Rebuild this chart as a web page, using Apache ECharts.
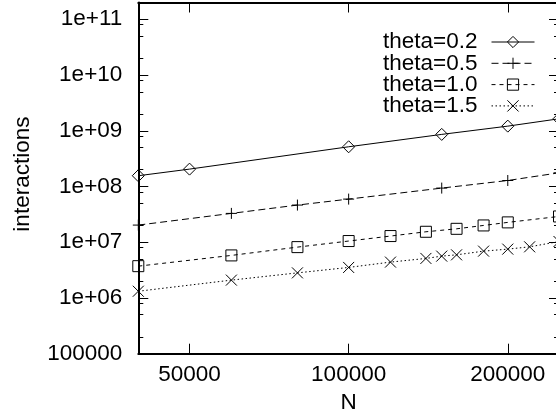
<!DOCTYPE html>
<html><head><meta charset="utf-8">
<script src="https://cdn.jsdelivr.net/npm/echarts@6/dist/echarts.min.js"></script>
<style>html,body{margin:0;padding:0;background:#fff}#c{width:556px;height:416px}</style>
</head><body><div id="c"></div>
<script>
const seriesNames = ['theta=0.2', 'theta=0.5', 'theta=1.0', 'theta=1.5'];

const n02 = [40000, 50000, 100000, 150000, 200000, 250000];
const i02 = [1.56e8, 2.05e8, 5.16e8, 8.6e8, 1.21e9, 1.64e9];

const n05 = [40000, 60000, 80000, 100000, 150000, 200000, 250000];
const i05 = [2.03e7, 3.29e7, 4.64e7, 5.94e7, 9.36e7, 1.28e8, 1.76e8];

const n10 = [40000, 60000, 80000, 100000, 120000, 140000, 160000, 180000, 200000, 250000];
const i10 = [3.72e6, 5.80e6, 8.17e6, 1.05e7, 1.29e7, 1.54e7, 1.74e7, 2.0e7, 2.27e7, 2.9e7];

const n15 = [40000, 60000, 80000, 100000, 120000, 140000, 150000, 160000, 180000, 200000, 220000, 250000];
const i15 = [1.32e6, 2.09e6, 2.82e6, 3.53e6, 4.40e6, 5.12e6, 5.63e6, 5.94e6, 6.92e6, 7.52e6, 8.27e6, 1.03e7];

const xTickValues = [50000, 100000, 200000];
const xTickLabels = ['50000', '100000', '200000'];
const yTickValues = [1e5, 1e6, 1e7, 1e8, 1e9, 1e10, 1e11];
const yTickLabels = ['100000', '1e+06', '1e+07', '1e+08', '1e+09', '1e+10', '1e+11'];
const yMinorTickValues = [2e5, 5e5, 8e5, 2e6, 5e6, 8e6, 2e7, 5e7, 8e7, 2e8, 5e8, 8e8,
  2e9, 5e9, 8e9, 2e10, 5e10, 8e10];

const FONT = 'Liberation Sans';
const FS = 22.5;

function pick(values, labels) {
  return function (v) {
    for (let k = 0; k < values.length; k++) {
      if (Math.abs(Math.log10(v) - Math.log10(values[k])) < 1e-6) return labels[k];
    }
    return '';
  };
}
function zip(a, b) { return a.map((x, k) => [x, b[k]]); }

const X_MIN = 40000, X_MAX = 250000, Y_MIN = 1e5, Y_MAX = 2e11;
const black = '#000';
const clear = 'rgba(255,255,255,0)';
const txt = { fontFamily: FONT, fontSize: FS, color: black };

function xAx(pos, main) {
  return {
    type: 'log', logBase: 10, min: X_MIN, max: X_MAX, position: pos,
    name: main ? 'N' : '', nameLocation: 'middle', nameGap: 32, nameTextStyle: txt,
    axisLine: { show: true, onZero: false, lineStyle: { color: black, width: 2 } },
    axisTick: { show: true, inside: true, length: 10, customValues: xTickValues, lineStyle: { color: black, width: 1 } },
    axisLabel: main ? Object.assign({ show: true, customValues: xTickValues, margin: 10, formatter: pick(xTickValues, xTickLabels) }, txt) : { show: false },
    splitLine: { show: false }, minorTick: { show: false }
  };
}
function yAx(pos, main, minor) {
  return {
    type: 'log', logBase: 10, min: Y_MIN, max: Y_MAX, position: pos,
    name: main ? 'interactions' : '', nameLocation: 'middle', nameGap: 104,
    nameTextStyle: Object.assign({ padding: [0, 0, 0, 8] }, txt),
    axisLine: { show: !minor, onZero: false, lineStyle: { color: black, width: 2 } },
    axisTick: { show: true, inside: true, length: minor ? 5 : 10, customValues: minor ? yMinorTickValues : yTickValues, lineStyle: { color: black, width: 1 } },
    axisLabel: main ? Object.assign({ show: true, customValues: yTickValues, margin: 16, formatter: pick(yTickValues, yTickLabels) }, txt) : { show: false },
    splitLine: { show: false }, minorTick: { show: false }
  };
}

function ser(k, n, v, symbol, size, dash) {
  return {
    name: seriesNames[k], type: 'line', data: zip(n, v),
    xAxisIndex: 0, yAxisIndex: 0,
    symbol: symbol, symbolSize: size, showSymbol: true,
    lineStyle: { color: black, width: 1, type: dash },
    itemStyle: { color: clear, borderColor: black, borderWidth: 1 },
    emphasis: { disabled: true }, animation: false, z: 3
  };
}

const chart = echarts.init(document.getElementById('c'), null, { renderer: 'canvas' });
chart.setOption({
  animation: false,
  backgroundColor: '#fff',
  grid: { left: 138.3, right: -3, top: 2.5, bottom: 62.3, containLabel: false, outerBoundsMode: 'none' },
  xAxis: [xAx('bottom', true), xAx('top', false)],
  yAxis: [yAx('left', true, false), yAx('left', false, true), yAx('right', false, false), yAx('right', false, true)],
  legend: {
    data: seriesNames, orient: 'vertical', right: 21, top: 30.5, align: 'right', padding: 0,
    itemWidth: 43, itemHeight: 14, itemGap: -1.7,
    lineStyle: { width: 1, color: black },
    itemStyle: { color: clear, borderColor: black, borderWidth: 1 },
    textStyle: { fontFamily: FONT, fontSize: FS, color: black, lineHeight: 21, padding: [0, 9, 0, 0] },
    selectedMode: false
  },
  series: [
    ser(0, n02, i02, 'diamond', 12, 'solid'),
    ser(1, n05, i05, 'path://M0,5L10,5M5,0L5,10', 11, [7, 4]),
    ser(2, n10, i10, 'rect', 11, [4, 4]),
    ser(3, n15, i15, 'path://M0,0L10,10M10,0L0,10', 11, [1.5, 2.5])
  ]
});
</script></body></html>
